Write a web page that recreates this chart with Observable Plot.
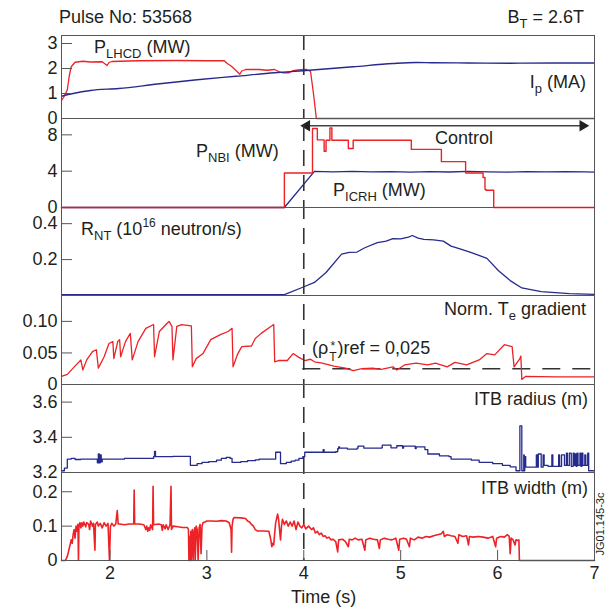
<!DOCTYPE html>
<html><head><meta charset="utf-8">
<script src="https://cdn.jsdelivr.net/npm/d3@7"></script>
<script src="https://cdn.jsdelivr.net/npm/@observablehq/plot@0.6"></script>
<style>
body{margin:0;background:#fff;}
#c{position:relative;width:610px;height:613px;font-family:"Liberation Sans",Arial,Helvetica,sans-serif;color:#231f20;overflow:hidden;}
#c svg{position:absolute;left:0;}
.lab{position:absolute;font-size:18px;white-space:nowrap;line-height:18px;}
.lab sub{font-size:13px;vertical-align:baseline;position:relative;top:5px;line-height:0;}
.lab sup{font-size:12px;vertical-align:baseline;position:relative;top:-8px;line-height:0;}
.stk{display:inline-block;vertical-align:-7px;font-size:12px;line-height:11px;text-align:center;margin:0 1px;}
.stk span{display:block;}
</style>
</head><body>
<div id="c"></div>
<script>
// ---------------- data ----------------
const xTicks = [2, 3, 4, 5, 6, 7];
const tBreak = 4.0;                    // dashed marker time
const ctlStart = 3.99, ctlEnd = 6.92, ctlLevel = 9.0;
const rhoRef = 0.025;

// Panel 1: P_LHCD (MW) and Ip (MA)
const lhT = [1.50,1.53,1.56,1.58,1.60,1.64,1.72,1.80,1.92,1.95,1.97,1.99,2.02,2.29,2.69,3.00,3.18,3.21,3.25,3.30,3.34,3.36,3.40,3.54,3.62,3.70,3.74,3.78,3.85,3.88,3.92,3.97,4.03,4.07,4.10,4.13,7.00];
const lhV = [0.72,0.90,1.15,1.70,2.07,2.25,2.29,2.26,2.27,2.18,2.12,2.24,2.28,2.31,2.32,2.31,2.31,2.20,2.10,1.92,1.77,1.90,1.96,1.96,1.93,1.96,1.88,1.83,1.83,1.90,1.93,1.95,1.96,1.88,1.00,0,0];
const ipT = [1.50,1.62,1.80,2.09,2.49,2.90,3.30,3.70,3.99,4.51,4.92,5.16,5.32,5.70,6.13,6.60,7.00];
const ipV = [0.89,1.00,1.12,1.20,1.38,1.55,1.69,1.83,1.91,2.07,2.20,2.24,2.23,2.22,2.21,2.22,2.22];

// Panel 2: P_NBI (MW) and P_ICRH (MW)
const nbT = [1.50,3.80,4.09,4.14,4.21,4.23,4.27,4.29,4.46,4.51,5.11,5.42,5.67,5.85,5.87,5.88,5.96,7.00];
const nbV = [0,3.8,8.7,7.45,6.2,7.4,8.75,7.4,6.5,7.4,6.4,5.05,3.8,3.3,2.0,1.9,0,0];
const icT = [1.50,3.80,4.11,4.30,4.50,4.70,4.90,5.10,5.30,5.50,5.70,5.90,6.10,6.30,6.50,6.70,6.90,7.00];
const icV = [0,0,3.98,3.93,3.97,3.92,3.96,3.90,3.95,3.91,3.97,3.93,3.90,3.95,3.92,3.96,3.93,3.90];

// Panel 3: R_NT (1e16 neutron/s)
const rnT = [1.50,3.80,3.99,4.11,4.23,4.39,4.47,4.55,4.63,4.76,4.85,4.92,5.00,5.08,5.12,5.18,5.24,5.34,5.44,5.52,5.62,5.73,5.89,6.01,6.13,6.25,6.45,6.74,7.00];
const rnV = [0.005,0.005,0.046,0.073,0.128,0.230,0.240,0.242,0.266,0.294,0.303,0.317,0.315,0.325,0.334,0.320,0.312,0.310,0.303,0.275,0.258,0.239,0.207,0.138,0.083,0.042,0.022,0.010,0.006];

// Panel 4: normalised Te gradient
const teT = [1.50,1.56,1.62,1.70,1.72,1.76,1.82,1.86,1.88,1.94,1.99,2.03,2.04,2.08,2.10,2.11,2.16,2.21,2.23,2.29,2.37,2.45,2.46,2.51,2.59,2.61,2.64,2.65,2.69,2.74,2.84,2.85,2.89,2.96,3.04,3.14,3.22,3.26,3.27,3.32,3.36,3.46,3.50,3.56,3.66,3.69,3.70,3.74,3.83,3.89,3.95,4.01,4.07,4.11,4.19,4.31,4.43,4.51,4.60,4.71,4.80,4.92,4.96,5.04,5.16,5.28,5.36,5.48,5.56,5.68,5.81,5.89,5.97,6.07,6.15,6.17,6.23,6.24,6.25,6.29,6.60,7.00];
const teV = [0.013,0.016,0.026,0.039,0.023,0.039,0.052,0.055,0.026,0.044,0.065,0.068,0.041,0.068,0.071,0.044,0.068,0.081,0.039,0.068,0.089,0.095,0.044,0.084,0.097,0.100,0.092,0.039,0.092,0.095,0.093,0.028,0.041,0.049,0.071,0.079,0.084,0.089,0.028,0.049,0.060,0.061,0.073,0.081,0.092,0.095,0.036,0.038,0.038,0.049,0.043,0.038,0.040,0.036,0.034,0.029,0.026,0.022,0.025,0.026,0.024,0.028,0.023,0.031,0.034,0.031,0.034,0.028,0.035,0.031,0.039,0.049,0.047,0.063,0.060,0.028,0.041,0.045,0.008,0.013,0.012,0.012];

// Panel 5: ITB radius (m)
const rdT = [1.50,1.53,1.56,1.60,1.64,1.70,1.87,1.88,1.89,1.90,1.91,1.92,2.15,2.45,2.46,2.47,2.65,2.81,2.83,2.90,2.95,3.02,3.10,3.15,3.20,3.24,3.26,3.35,3.42,3.50,3.54,3.70,3.71,3.75,3.76,3.82,3.87,3.91,3.95,3.99,4.01,4.19,4.20,4.21,4.33,4.35,4.36,4.37,4.45,4.55,4.56,4.62,4.80,4.81,4.90,4.95,4.96,5.02,5.03,5.15,5.16,5.25,5.28,5.40,5.50,5.52,5.73,5.81,5.95,6.05,6.13,6.19,6.23,6.25,6.27,6.275,6.28,6.29,6.37,6.40,6.41,6.42,6.45,6.47,6.48,6.52,6.56,6.57,6.63,6.64,6.66,6.69,6.71,6.72,6.74,6.76,6.78,6.79,6.80,6.81,6.82,6.83,6.85,6.86,6.87,6.88,6.90,6.91,6.93,6.94,7.00];
const rdV = [3.210,3.225,3.276,3.280,3.274,3.276,3.255,3.305,3.255,3.300,3.260,3.276,3.280,3.290,3.320,3.290,3.292,3.292,3.240,3.250,3.257,3.262,3.270,3.280,3.286,3.280,3.257,3.262,3.267,3.272,3.276,3.276,3.315,3.315,3.250,3.257,3.265,3.270,3.280,3.290,3.315,3.315,3.330,3.315,3.318,3.335,3.345,3.338,3.333,3.338,3.350,3.338,3.340,3.356,3.340,3.340,3.352,3.338,3.350,3.336,3.346,3.330,3.305,3.295,3.290,3.276,3.270,3.257,3.250,3.240,3.232,3.210,3.465,3.210,3.300,3.210,3.290,3.230,3.230,3.300,3.230,3.305,3.230,3.300,3.240,3.235,3.300,3.235,3.300,3.235,3.300,3.240,3.310,3.240,3.310,3.235,3.310,3.240,3.305,3.235,3.310,3.240,3.310,3.235,3.310,3.240,3.300,3.240,3.310,3.210,3.210];

// Panel 6: ITB width (m)
const wT = [1.50,1.54,1.56,1.58,1.60,1.61,1.62,1.63,1.64,1.65,1.66,1.67,1.675,1.68,1.69,1.70,1.71,1.72,1.73,1.75,1.76,1.78,1.79,1.80,1.82,1.83,1.845,1.85,1.87,1.88,1.90,1.92,1.94,1.96,1.98,1.995,2.005,2.02,2.04,2.06,2.075,2.085,2.10,2.15,2.20,2.245,2.25,2.255,2.30,2.35,2.37,2.38,2.39,2.40,2.41,2.42,2.44,2.445,2.45,2.50,2.53,2.54,2.55,2.57,2.58,2.60,2.62,2.63,2.635,2.65,2.70,2.75,2.80,2.81,2.815,2.82,2.825,2.835,2.84,2.85,2.86,2.865,2.875,2.88,2.89,2.90,2.91,2.92,2.93,2.94,2.95,2.96,2.98,3.00,3.05,3.10,3.15,3.20,3.23,3.25,3.255,3.26,3.27,3.28,3.35,3.40,3.42,3.44,3.46,3.48,3.50,3.52,3.58,3.64,3.66,3.67,3.68,3.69,3.70,3.71,3.73,3.74,3.75,3.76,3.77,3.78,3.80,3.82,3.84,3.86,3.88,3.90,3.92,3.94,3.96,3.98,4.00,4.02,4.05,4.08,4.10,4.12,4.14,4.16,4.18,4.20,4.22,4.24,4.26,4.28,4.30,4.33,4.35,4.36,4.40,4.43,4.46,4.47,4.50,4.53,4.56,4.60,4.63,4.64,4.68,4.72,4.76,4.78,4.79,4.83,4.87,4.91,4.95,4.98,4.99,5.03,5.06,5.09,5.10,5.14,5.18,5.22,5.26,5.30,5.34,5.38,5.42,5.44,5.45,5.48,5.52,5.56,5.59,5.60,5.64,5.68,5.70,5.71,5.75,5.80,5.85,5.90,5.95,5.98,5.99,6.03,6.07,6.10,6.12,6.13,6.14,6.16,6.18,6.19,6.21,6.22,6.225,7.00];
const wV = [0,0,0.012,0.035,0.060,0.050,0.075,0.090,0.065,0.100,0.085,0.105,0,0.100,0.110,0.095,0.110,0.100,0.112,0.098,0.110,0.105,0.090,0.115,0.100,0.108,0.030,0.105,0.112,0.100,0.108,0.095,0.110,0.100,0.108,0,0.100,0.108,0.100,0.106,0.145,0.106,0.106,0.104,0.106,0.106,0.205,0.106,0.106,0.104,0.090,0.100,0.085,0.095,0.088,0.104,0.090,0.216,0.104,0.106,0.104,0.088,0.104,0.092,0.104,0.090,0.104,0.216,0.090,0.100,0.098,0.096,0.096,0.090,0,0.070,0,0.085,0,0.090,0,0.080,0.095,0,0.100,0.090,0,0.095,0.105,0.020,0.100,0.110,0.112,0.115,0.115,0.114,0.116,0.115,0.110,0.090,0.024,0.100,0.120,0.125,0.124,0.122,0.115,0.112,0.105,0.100,0.090,0.086,0.086,0.085,0.060,0.040,0.050,0.045,0.080,0.110,0.135,0.120,0.090,0.060,0.100,0.120,0.105,0.115,0.100,0.112,0.100,0.115,0.090,0.112,0.100,0.095,0.105,0.092,0.100,0.090,0.095,0.080,0.085,0.075,0.080,0.070,0.072,0.065,0.068,0.060,0.062,0.055,0.025,0.060,0.062,0.055,0.040,0.062,0.060,0.065,0.060,0.062,0.030,0.060,0.065,0.062,0.060,0.035,0.060,0.065,0.062,0.060,0.065,0.030,0.062,0.065,0.062,0.040,0.065,0.060,0.068,0.065,0.070,0.068,0.072,0.075,0.078,0.085,0.070,0.075,0.072,0.070,0.050,0.075,0.070,0.072,0.045,0.070,0.068,0.070,0.068,0.065,0.070,0.040,0.065,0.070,0.068,0.075,0.070,0.020,0.065,0.060,0.045,0.060,0.058,0.060,0,0];

// ---------------- drawing ----------------
const RED = "#ec2227", BLUE = "#262a8c", INK = "#231f20", FRAME = "#555";
const root = document.getElementById("c");
const FONT = "'Liberation Sans', Arial, Helvetica, sans-serif";

function panel({top, bottom, domain, ticks, fmt, marks, xAxis = false}) {
  const extra = xAxis ? 613 - bottom : 0;
  const svg = Plot.plot({
    width: 610, height: bottom - top + extra,
    marginLeft: 61, marginRight: 16, marginTop: 0, marginBottom: extra,
    style: {fontFamily: FONT, fontSize: "18px", color: INK, background: "transparent", overflow: "visible"},
    x: {domain: [1.5, 7], axis: null},
    y: {domain, axis: null},
    marks: [
      ...marks,
      Plot.ruleX([tBreak], {stroke: "#333", strokeWidth: 1.6, strokeDasharray: "16,9", strokeDashoffset: -((top - 36) % 25)}),
      Plot.frame({stroke: FRAME, strokeWidth: 1}),
      Plot.axisY(ticks, {tickSize: -11, tickPadding: 15, tickFormat: fmt, color: INK, stroke: FRAME, label: null, fontSize: 18}),
      ...(xAxis ? [Plot.axisX(xTicks, {tickSize: -10, tickPadding: 16, color: INK, stroke: FRAME, label: null, fontSize: 18})] : [])
    ]
  });
  svg.style.top = top + "px";
  root.appendChild(svg);
}

panel({top: 35, bottom: 118, domain: [0, 3.32], ticks: [0, 1, 2, 3], fmt: d3.format("d"),
  marks: [
    Plot.line(lhT, {x: lhT, y: lhV, stroke: RED, strokeWidth: 1.3}),
    Plot.line(ipT, {x: ipT, y: ipV, stroke: BLUE, strokeWidth: 1.3, curve: "monotone-x"})
  ]});

panel({top: 118, bottom: 207, domain: [0, 9.8], ticks: [0, 4, 8], fmt: d3.format("d"),
  marks: [
    Plot.link([0], {x1: [ctlStart], x2: [ctlEnd], y1: [ctlLevel], y2: [ctlLevel], stroke: "#444", strokeWidth: 1.3}),
    Plot.dot([ctlStart], {x: d => d, y: [ctlLevel], symbol: "triangle", rotate: -90, r: 4.2, dx: 4, fill: "#222", stroke: null}),
    Plot.dot([ctlEnd], {x: d => d, y: [ctlLevel], symbol: "triangle", rotate: 90, r: 4.2, dx: -4, fill: "#222", stroke: null}),
    Plot.line(icT, {x: icT, y: icV, stroke: BLUE, strokeWidth: 1.3}),
    Plot.line(nbT, {x: nbT, y: nbV, stroke: RED, strokeWidth: 1.4, curve: "step-after"})
  ]});

panel({top: 207, bottom: 295, domain: [0, 0.49], ticks: [0.2, 0.4], fmt: d3.format(".1f"),
  marks: [
    Plot.line(rnT, {x: rnT, y: rnV, stroke: BLUE, strokeWidth: 1.3})
  ]});

panel({top: 295, bottom: 384, domain: [0, 0.141], ticks: [0, 0.05, 0.10], fmt: d => d === 0 ? "0" : d3.format(".2f")(d),
  marks: [
    Plot.ruleY([rhoRef], {x1: ctlStart, x2: 7, stroke: "#333", strokeWidth: 1.5, strokeDasharray: "18,12"}),
    Plot.line(teT, {x: teT, y: teV, stroke: RED, strokeWidth: 1.3})
  ]});

panel({top: 384, bottom: 472, domain: [3.2, 3.70], ticks: [3.2, 3.4, 3.6], fmt: d3.format(".1f"),
  marks: [
    Plot.line(rdT, {x: rdT, y: rdV, stroke: BLUE, strokeWidth: 1.3, curve: "step-after"})
  ]});

panel({top: 472, bottom: 560, domain: [0, 0.256], ticks: [0, 0.1, 0.2], fmt: d => d === 0 ? "0" : d3.format(".1f")(d), xAxis: true,
  marks: [
    Plot.line(wT, {x: wT, y: wV, stroke: RED, strokeWidth: 1.6})
  ]});

// ---------------- text labels ----------------
const labels = [
  ["left:59px;top:8px", "Pulse No: 53568"],
  ["right:26px;top:8px", "B<sub>T</sub> = 2.6T"],
  ["left:94px;top:38px", "P<sub>LHCD</sub> (MW)"],
  ["right:24px;top:73px", "I<sub>p</sub> (MA)"],
  ["left:196px;top:142px", "P<sub>NBI</sub> (MW)"],
  ["left:435px;top:129px", "Control"],
  ["left:333px;top:181px", "P<sub>ICRH</sub> (MW)"],
  ["left:81px;top:220px", "R<sub>NT</sub> (10<sup>16</sup> neutron/s)"],
  ["right:24px;top:300px", "Norm. T<sub>e</sub> gradient"],
  ["left:312px;top:339px", "(ρ<span class=\"stk\"><span>*</span><span>T</span></span>)ref = 0,025"],
  ["right:22px;top:390px", "ITB radius (m)"],
  ["right:22px;top:479px", "ITB width (m)"],
  ["left:291px;top:588px", "Time (s)"]
];
for (const [pos, html] of labels) {
  const d = document.createElement("div");
  d.className = "lab";
  d.style.cssText = pos;
  d.innerHTML = html;
  root.appendChild(d);
}
const jg = document.createElement("div");
jg.textContent = "JG01.145-3c";
jg.style.cssText = "position:absolute;left:600px;top:524px;font-size:11px;white-space:nowrap;transform:translate(-50%,-50%) rotate(-90deg);line-height:11px;";
root.appendChild(jg);
</script>
</body></html>
